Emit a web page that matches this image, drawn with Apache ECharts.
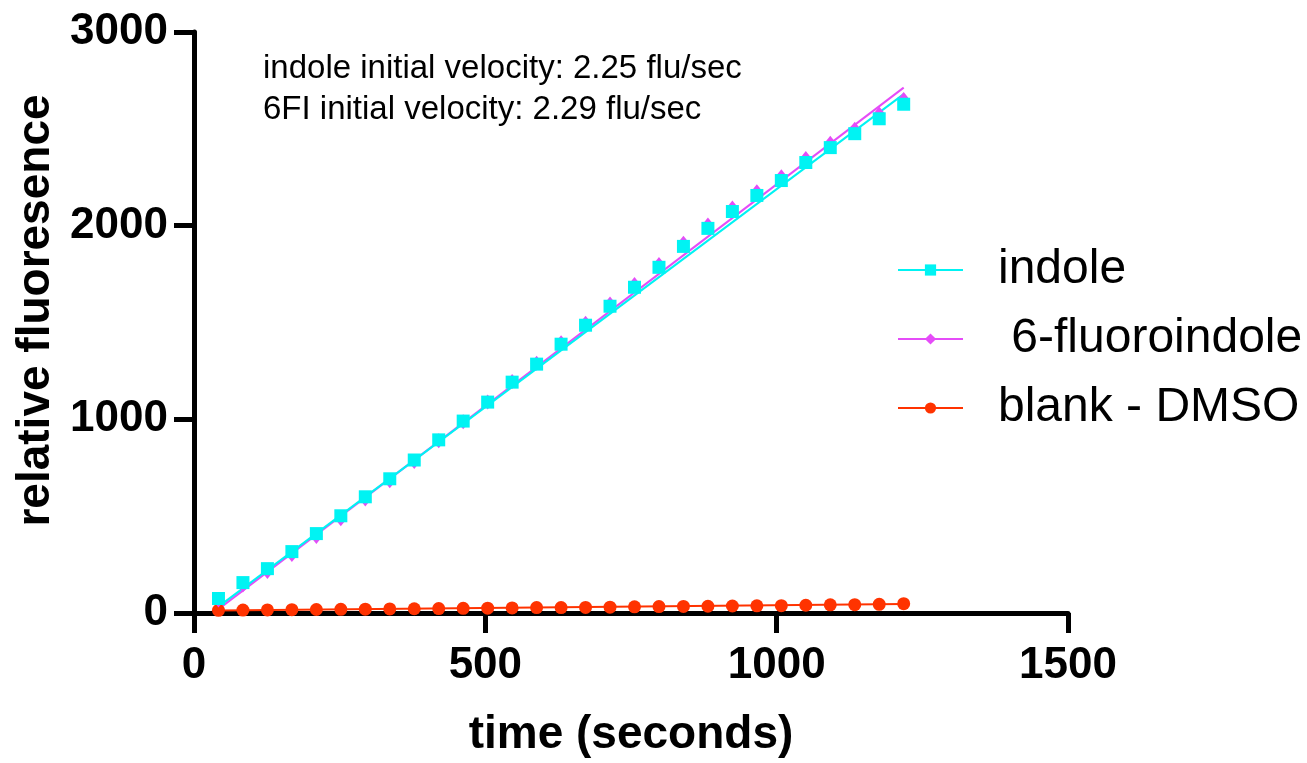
<!DOCTYPE html>
<html>
<head>
<meta charset="utf-8">
<script src="https://cdn.jsdelivr.net/npm/echarts@6/dist/echarts.min.js"></script>
<style>
html,body{margin:0;padding:0;background:#fff;}
#chart{width:1307px;height:763px;}
</style>
</head>
<body>
<div id="chart"></div>
<script>
// ---- data ----
var timeSec = [42,84,126,168,210,252,294,336,378,420,462,504,546,588,630,672,714,756,798,840,882,924,966,1008,1050,1092,1134,1176,1218];
var indole = [75,157,229,317,410,502,600,693,790,894,991,1089,1192,1285,1388,1486,1584,1682,1785,1893,1986,2073,2156,2233,2326,2403,2475,2552,2627];
var fluoroindole = [67,145,214,302,395,487,588,683,782,889,988,1089,1195,1290,1396,1496,1596,1696,1800,1909,2003,2091,2175,2253,2347,2425,2498,2576,2652];
var blankDMSO = [14,15,16,17,18,19,20,21,22,23,24,25,26,28,28,29,30,32,33,34,35,36,37,38,40,42,43,45,48];
// linear fit lines (end points)
var fitTime = [42,1218];
var indoleFit = [33,2679];
var fluoroFit = [20,2713];
var blankFit = [13,47];
var xTicks = [0,500,1000,1500];
var yTicks = [0,1000,2000,3000];
var seriesNames = ['indole',' 6-fluoroindole','blank - DMSO'];
var colors = ['#00F3F3','#E54CF8','#FF3300'];
var notes = ['indole initial velocity: 2.25 flu/sec','6FI initial velocity: 2.29 flu/sec'];

function pairs(xs, ys){ return xs.map(function(x,i){return [x, ys[i]];}); }

var chart = echarts.init(document.getElementById('chart'), null, {renderer:'canvas'});
var tickFont = {fontFamily:'Liberation Sans, Arial, sans-serif', fontWeight:'bold', fontSize:44, color:'#000', lineHeight:44};
var titleFont = {fontFamily:'Liberation Sans, Arial, sans-serif', fontWeight:'bold', fontSize:46, color:'#000', lineHeight:46};

function fitSeries(ys, color){
  return {type:'line', data:pairs(fitTime, ys), symbol:'none', silent:true,
    lineStyle:{color:color, width:2}, itemStyle:{color:color}, z:2};
}
function dataSeries(name, ys, color, symbol, size){
  return {type:'line', name:name, data:pairs(timeSec, ys), symbol:symbol, symbolSize:size,
    showSymbol:true, lineStyle:{width:0, opacity:0}, itemStyle:{color:color}, z:3};
}
function plain(v){ return String(v); }

var option = {
  animation:false,
  backgroundColor:'#fff',
  grid:{left:194, right:239, top:32, bottom:149},
  xAxis:{type:'value', min:xTicks[0], max:xTicks[xTicks.length-1], interval:500,
    splitLine:{show:false},
    axisLine:{lineStyle:{color:'#000', width:5}},
    axisTick:{length:20, lineStyle:{color:'#000', width:5}},
    axisLabel:Object.assign({margin:31, formatter:plain}, tickFont),
    name:'time (seconds)', nameLocation:'middle', nameGap:99, nameTextStyle:titleFont},
  yAxis:{type:'value', min:yTicks[0], max:yTicks[yTicks.length-1], interval:1000,
    splitLine:{show:false},
    axisLine:{show:true, lineStyle:{color:'#000', width:5}},
    axisTick:{show:true, length:20, lineStyle:{color:'#000', width:5}},
    axisLabel:Object.assign({margin:26, formatter:plain}, tickFont),
    name:'relative fluoresence', nameLocation:'middle', nameGap:122,
    nameTextStyle:Object.assign({padding:[0,0,0,24]}, titleFont)},
  legend:{orient:'vertical', left:892, top:241, itemWidth:65, itemHeight:14, itemGap:21,
    data:seriesNames,
    lineStyle:{width:2, opacity:1},
    textStyle:{fontFamily:'Liberation Sans, Arial, sans-serif', fontSize:48, lineHeight:48, color:'#000', padding:[0,0,0,30]}},
  graphic:[
    {type:'text', left:263, top:52, style:{text:notes[0], font:'33px "Liberation Sans", Arial, sans-serif', fill:'#000'}},
    {type:'text', left:263, top:93, style:{text:notes[1], font:'33px "Liberation Sans", Arial, sans-serif', fill:'#000'}}
  ],
  series:[
    fitSeries(blankFit, colors[2]),
    fitSeries(fluoroFit, colors[1]),
    fitSeries(indoleFit, colors[0]),
    dataSeries(seriesNames[2], blankDMSO, colors[2], 'circle', 13),
    dataSeries(seriesNames[1], fluoroindole, colors[1], 'diamond', [12,15]),
    dataSeries(seriesNames[0], indole, colors[0], 'rect', 13)
  ]
};
chart.setOption(option);
</script>
</body>
</html>
